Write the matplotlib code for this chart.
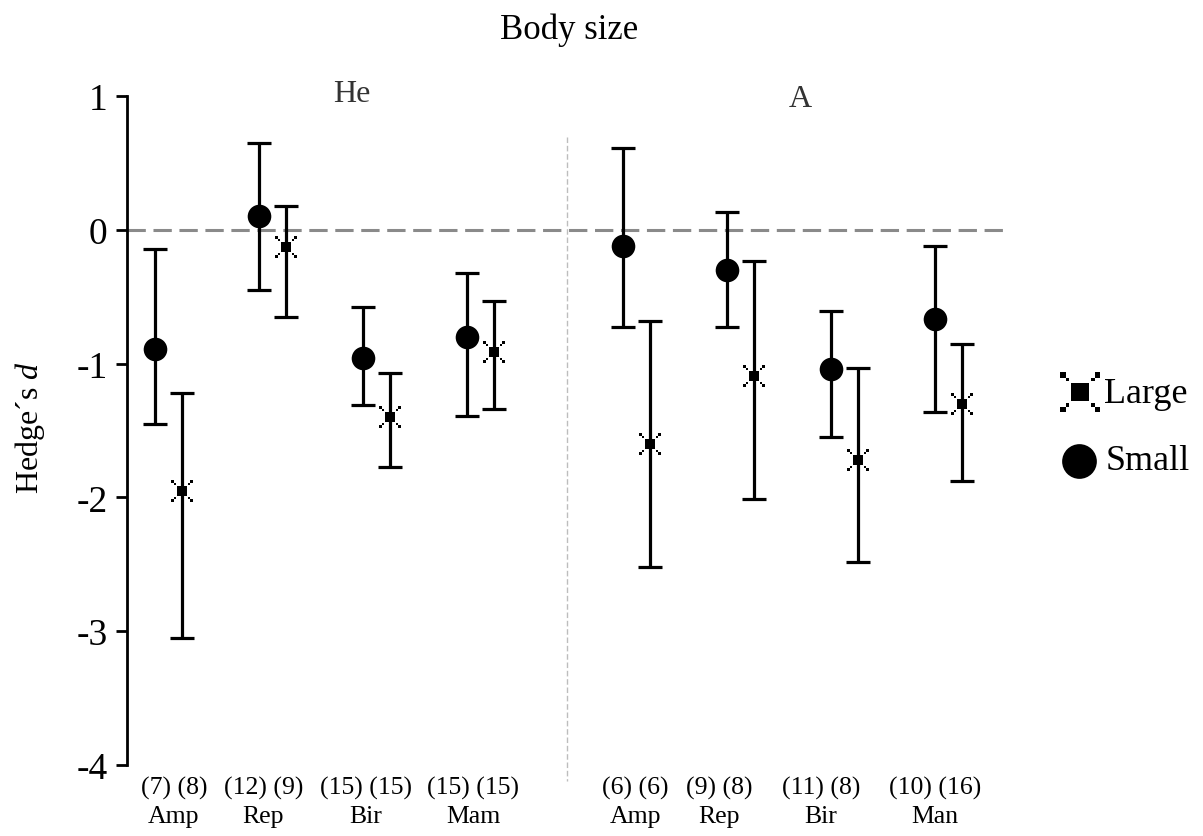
import matplotlib
matplotlib.use("Agg")
import matplotlib.pyplot as plt
from matplotlib.path import Path
from matplotlib.lines import Line2D
import numpy as np

plt.rcParams['font.family'] = ['Liberation Serif', 'DejaVu Serif']
plt.rcParams['mathtext.fontset'] = 'custom'
plt.rcParams['mathtext.it'] = 'Liberation Serif:italic'
plt.rcParams['mathtext.rm'] = 'Liberation Serif'

# ---- data ----
groups = ["He", "A"]
taxa_he = ["Amp", "Rep", "Bir", "Mam"]
taxa_a = ["Amp", "Rep", "Bir", "Man"]
counts_he = ["(7) (8)", "(12) (9)", "(15) (15)", "(15) (15)"]
counts_a = ["(6) (6)", "(9) (8)", "(11) (8)", "(10) (16)"]

he_small = [-0.89, 0.10, -0.96, -0.80]
he_small_lo = [-1.45, -0.45, -1.31, -1.39]
he_small_hi = [-0.14, 0.65, -0.58, -0.32]
he_large = [-1.95, -0.13, -1.40, -0.91]
he_large_lo = [-3.05, -0.65, -1.77, -1.34]
he_large_hi = [-1.22, 0.18, -1.07, -0.53]

a_small = [-0.12, -0.30, -1.04, -0.67]
a_small_lo = [-0.73, -0.73, -1.55, -1.36]
a_small_hi = [0.61, 0.13, -0.61, -0.12]
a_large = [-1.60, -1.09, -1.72, -1.30]
a_large_lo = [-2.52, -2.01, -2.48, -1.88]
a_large_hi = [-0.68, -0.23, -1.03, -0.85]

yticks = [1, 0, -1, -2, -3, -4]

# ---- layout ----
x_he = np.array([0, 1, 2, 3], dtype=float)
x_a = np.array([4.5, 5.5, 6.5, 7.5])
off_large = 0.26
label_off_he = [0.18, 0.04, 0.03, 0.06]
label_off_a = [0.12, -0.08, -0.10, 0.0]

# custom "Large" marker: center square + dotted diagonal corners
def sq(cx, cy, h):
    return Path([(cx - h, cy - h), (cx + h, cy - h), (cx + h, cy + h),
                 (cx - h, cy + h), (cx - h, cy - h)],
                [Path.MOVETO, Path.LINETO, Path.LINETO, Path.LINETO, Path.CLOSEPOLY])

parts = [sq(0, 0, 0.46)]
for sx in (-1, 1):
    for sy in (-1, 1):
        parts.append(sq(sx * 0.64, sy * 0.64, 0.08))
        parts.append(sq(sx * 0.86, sy * 0.86, 0.14))
large_marker = Path.make_compound_path(*parts)

fig = plt.figure(figsize=(12.03, 8.37), dpi=100)
ax = fig.add_axes([127 / 1203, 71 / 837, (1010 - 127) / 1203, (766 - 97) / 837])

ax.set_xlim(-0.27, 8.22)
ax.set_ylim(-4, 1)

ax.axhline(0, color='#8a8a8a', lw=2.2, dashes=(6, 2.5), zorder=1)
ax.plot([3.96, 3.96], [0.69, -4.12], color='#bdbdbd', lw=1.0, dashes=(4, 2),
        clip_on=False, zorder=1)

ekw = dict(fmt='none', ecolor='black', elinewidth=2.3, capsize=8.3, capthick=2.3, zorder=2)

def draw(xs, m, lo, hi, marker, ms):
    m = np.array(m); lo = np.array(lo); hi = np.array(hi)
    ax.errorbar(xs, m, yerr=[m - lo, hi - m], **ekw)
    ax.plot(xs, m, linestyle='none', marker=marker, markersize=ms,
            color='black', markeredgewidth=0, zorder=3)

draw(x_he, he_small, he_small_lo, he_small_hi, 'o', 17)
draw(x_he + off_large, he_large, he_large_lo, he_large_hi, large_marker, 16)
draw(x_a, a_small, a_small_lo, a_small_hi, 'o', 17)
draw(x_a + off_large, a_large, a_large_lo, a_large_hi, large_marker, 16)

# spines / ticks
for s in ['top', 'right', 'bottom']:
    ax.spines[s].set_visible(False)
ax.spines['left'].set_linewidth(2.0)
ax.set_xticks([])
ax.set_yticks(yticks)
ax.set_yticklabels([str(t) for t in yticks])
ax.tick_params(axis='y', direction='out', length=8, width=2.0, labelsize=27, pad=6)

# category labels
for xs, offs, cnts, names in ((x_he, label_off_he, counts_he, taxa_he),
                              (x_a, label_off_a, counts_a, taxa_a)):
    for x, o, c, n in zip(xs, offs, cnts, names):
        ax.text(x + o, -4.17, c, ha='center', va='center', fontsize=18.5, clip_on=False)
        ax.text(x + o, -4.38, n, ha='center', va='center', fontsize=18.5, clip_on=False)

# group labels and titles
fig.text(352 / 1203, 1 - 94 / 837, groups[0], ha='center', va='center', fontsize=23, color='#333333')
fig.text(800 / 1203, 1 - 100 / 837, groups[1], ha='center', va='center', fontsize=23, color='#333333')
fig.text(569 / 1203, 1 - 30 / 837, "Body size", ha='center', va='center', fontsize=25)
fig.text(30 / 1203, 1 - 428 / 837, "Hedge\u00b4s $d$", ha='center', va='center',
         rotation=90, fontsize=23)

# legend (manual)
fig.add_artist(Line2D([1080 / 1203], [1 - 393 / 837], transform=fig.transFigure,
                      marker=large_marker, markersize=29, color='black',
                      markeredgewidth=0, linestyle='none'))
fig.text(1104 / 1203, 1 - 395 / 837, "Large", ha='left', va='center', fontsize=26)
fig.add_artist(Line2D([1079 / 1203], [1 - 462 / 837], transform=fig.transFigure,
                      marker='o', markersize=25, color='black',
                      markeredgewidth=0, linestyle='none'))
fig.text(1106 / 1203, 1 - 462 / 837, "Small", ha='left', va='center', fontsize=26)

fig.savefig("out.png", dpi=100)
